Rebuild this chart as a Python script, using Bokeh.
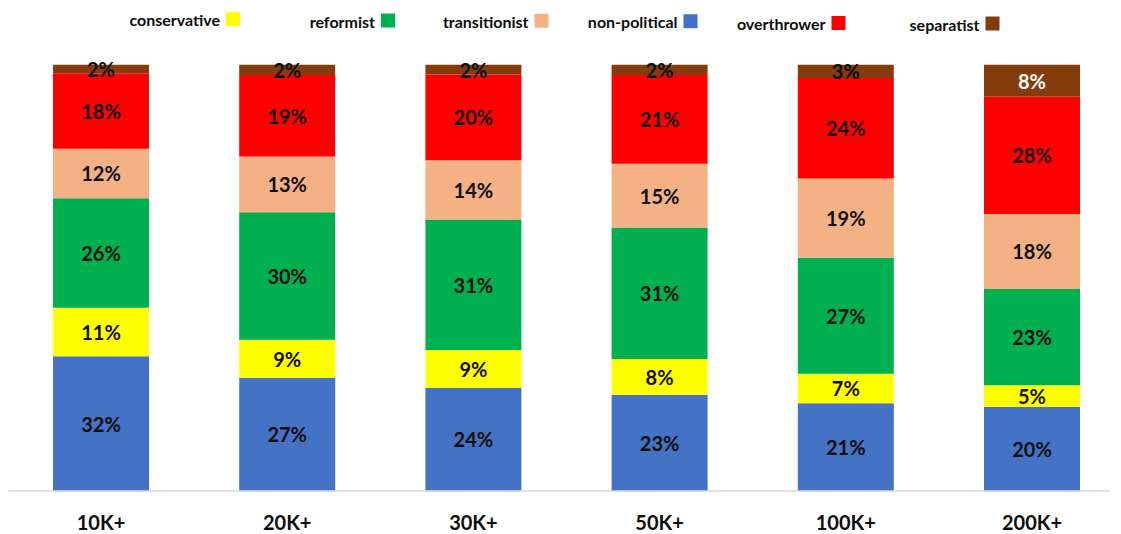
import numpy as np
from bokeh.plotting import figure
from bokeh.models import ColumnDataSource, Range1d
from bokeh.core.properties import value
from bokeh.embed import file_html
from bokeh.resources import INLINE

# ---------------- data (percent of each group) ----------------
categories = ["10K+", "20K+", "30K+", "50K+", "100K+", "200K+"]
non_political = [31.6, 26.6, 24.2, 22.6, 20.6, 19.7]
conservative = [11.4, 8.9, 8.9, 8.4, 6.9, 5.1]
reformist = [25.7, 29.9, 30.6, 30.8, 27.2, 22.6]
transitionist = [11.6, 13.1, 13.9, 15.0, 18.6, 17.6]
overthrower = [17.7, 19.1, 20.1, 20.8, 23.6, 27.5]
separatist = [2.0, 2.4, 2.3, 2.4, 3.1, 7.5]

stack_keys = ["non_political", "conservative", "reformist", "transitionist", "overthrower", "separatist"]
stack_names = ["non-political", "conservative", "reformist", "transitionist", "overthrower", "separatist"]
stack_values = [non_political, conservative, reformist, transitionist, overthrower, separatist]
stack_colors = ["#4472C4", "#FFFF00", "#00B050", "#F4B183", "#FF0000", "#843C0C"]

legend_order = ["conservative", "reformist", "transitionist", "non-political", "overthrower", "separatist"]

# ---------------- geometry ----------------
FRAME_W, FRAME_H = 1121, 534
PX_X = 186.2          # pixels per category
PX_Y = 4.262          # pixels per percent
FIRST_CENTER = 100.5  # px from frame left to first bar centre
ZERO_Y = 490.5        # px from frame top to the baseline

x0 = -FIRST_CENTER / PX_X
x1 = x0 + FRAME_W / PX_X
y1 = ZERO_Y / PX_Y
y0 = -(FRAME_H - ZERO_Y) / PX_Y


def sx(px):
    return x0 + px / PX_X


def sy(py):
    return y1 - py / PX_Y


FONT = value("Lato")

p = figure(width=FRAME_W, height=FRAME_H, frame_width=FRAME_W, frame_height=FRAME_H,
           x_range=Range1d(x0, x1), y_range=Range1d(y0, y1),
           output_backend="svg", toolbar_location=None,
           x_axis_location=None, y_axis_location=None,
           min_border=0, outline_line_color=None,
           background_fill_color="white", border_fill_color="white")
p.grid.visible = False

xs = list(range(len(categories)))
data = {"x": xs, "cat": categories}
for k, v in zip(stack_keys, stack_values):
    data[k] = v
source = ColumnDataSource(data)

p.vbar_stack(stack_keys, x="x", width=0.5155, color=stack_colors, line_color=None, source=source)

# baseline (category axis line)
p.segment(x0=[sx(8)], y0=[0], x1=[sx(1110)], y1=[0], line_color="#D9D9D9", line_width=1.5)

# segment labels
arr = np.array(stack_values)
bottoms = np.vstack([np.zeros(arr.shape[1]), np.cumsum(arr, axis=0)[:-1]])
mids = bottoms + arr / 2
lx, ly, lt, lc = [], [], [], []
for si in range(arr.shape[0]):
    for ci in range(arr.shape[1]):
        lx.append(xs[ci])
        ly.append(mids[si, ci])
        lt.append(f"{round(arr[si, ci])}%")
        lc.append("white" if (stack_keys[si] == "separatist" and arr[si, ci] > 5) else "#0D0D0D")
p.text(x=lx, y=ly, text=lt, text_color=lc, text_align="center", text_baseline="middle",
       text_font=FONT, text_font_style="bold", text_font_size="20px")

# category labels
p.text(x="x", y=sy(521), text="cat", source=source, text_align="center", text_baseline="middle",
       text_font=FONT, text_font_style="bold", text_font_size="20px", text_color="#0D0D0D")

# legend (label, then a coloured square to its right)
leg_sq_px = [232.5, 387.5, 541, 690, 838, 992]
leg_sq_py = [18.6, 20.0, 20.3, 20.7, 22.5, 23.0]
leg_colors = [stack_colors[stack_names.index(n)] for n in legend_order]
p.scatter(x=[sx(v) for v in leg_sq_px], y=[sy(v) for v in leg_sq_py], marker="square", size=14,
          fill_color=leg_colors, line_color=None)
p.text(x=[sx(v - 13) for v in leg_sq_px], y=[sy(v + 0.5) for v in leg_sq_py], text=legend_order,
       text_align="right", text_baseline="middle", text_font=FONT, text_font_style="bold",
       text_font_size="16px", text_color="#0D0D0D")

open("out.html", "w").write(file_html(p, INLINE))
